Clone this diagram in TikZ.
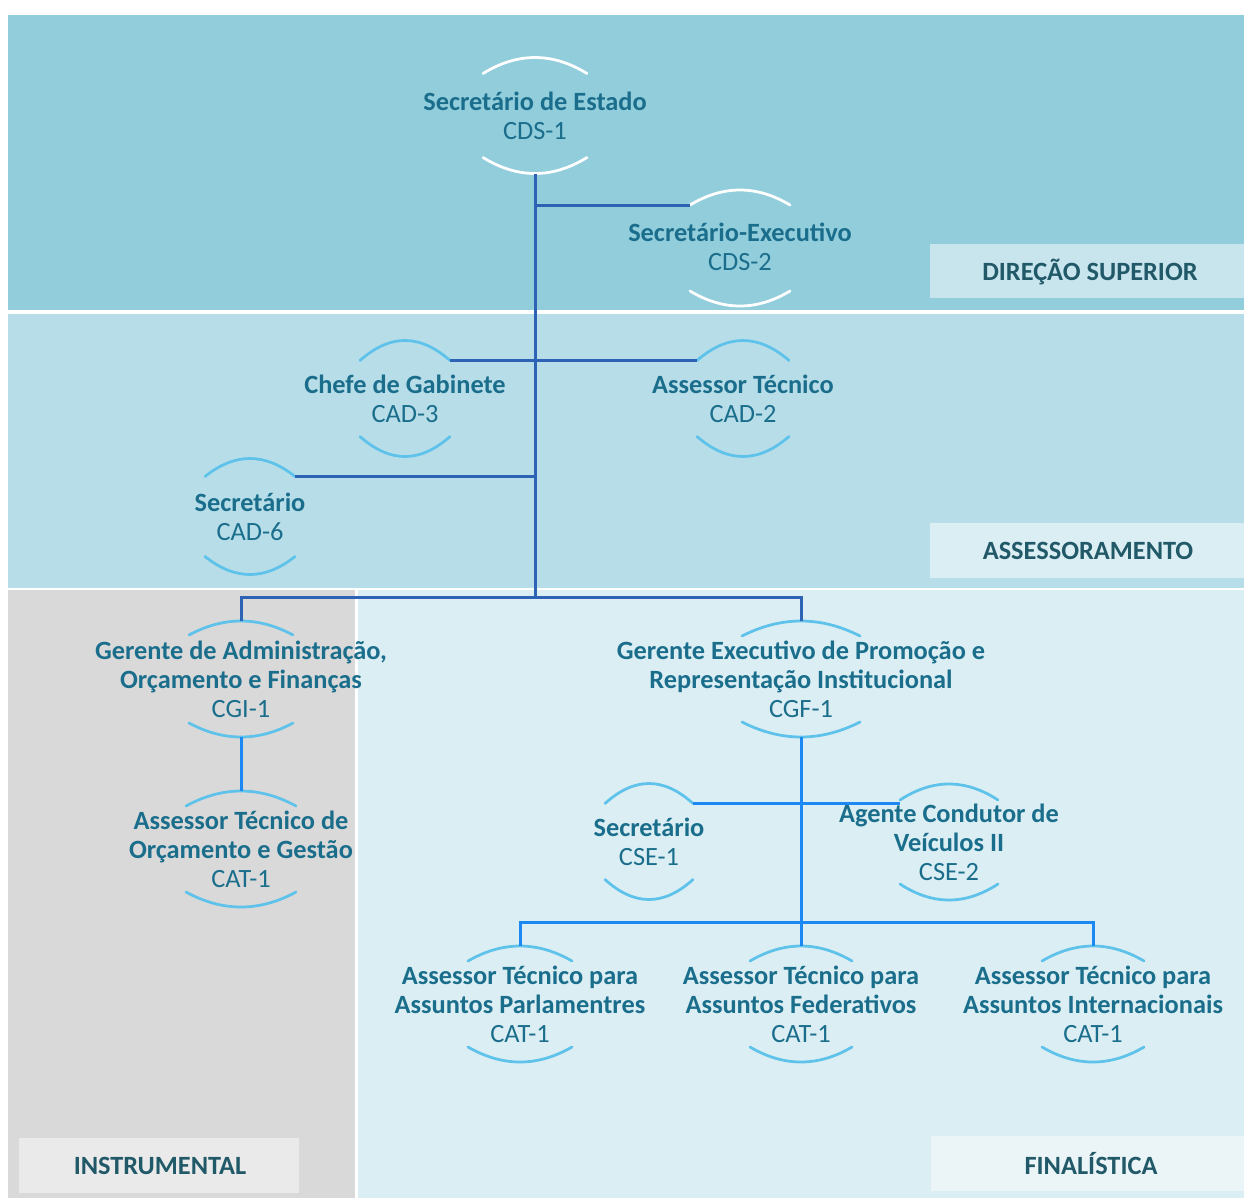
\documentclass[tikz,border=0pt]{standalone}
\usepackage{fontspec}
\setmainfont{Carlito}
\definecolor{bandtop}{HTML}{92CDDC}
\definecolor{bandmid}{HTML}{B7DEE8}
\definecolor{bandgray}{HTML}{D9D9D9}
\definecolor{bandlow}{HTML}{DAEEF3}
\definecolor{boxtop}{HTML}{C8E5EE}
\definecolor{boxmid}{HTML}{DBEEF4}
\definecolor{boxgray}{HTML}{EAEAEA}
\definecolor{boxlow}{HTML}{EBF5F8}
\definecolor{roletext}{HTML}{1A6E8C}
\definecolor{labeltext}{HTML}{215968}
\definecolor{arcblue}{HTML}{5EC2EA}
\definecolor{linedark}{HTML}{2E62B4}
\definecolor{linebright}{HTML}{1B88F4}
\tikzset{role/.style={font=\fontsize{15}{16.5}\selectfont,text=roletext,align=center,inner sep=0pt},
band label/.style={font=\fontsize{15}{18}\selectfont\bfseries,text=labeltext,anchor=center},
arc line/.style={line width=0.055cm,line cap=round},
dark link/.style={draw=linedark,line width=0.06cm},
bright link/.style={draw=linebright,line width=0.06cm},
pics/role arcs/.style n args={3}{code={
\draw [arc line,draw=#3] (-#1,-58+#2) coordinate (-tl) .. controls (-#1/3,-58-#2/3) and (#1/3,-58-#2/3) .. (#1,-58+#2) coordinate (-tr);
\draw [arc line,draw=#3] (-#1,58-#2) coordinate (-bl) .. controls (-#1/3,58+#2/3) and (#1/3,58+#2/3) .. (#1,58-#2) coordinate (-br);
\coordinate (-t) at (0,-58);
\coordinate (-b) at (0,58);
}}}

\begin{document}
\begin{tikzpicture}[x=0.02cm,y=-0.02cm]
\useasboundingbox (0,0) rectangle (1244,1198);

%% bands
\fill [bandtop] (8,15) rectangle (1244,310);
\fill [bandmid] (8,314) rectangle (1244,588);
\fill [bandgray] (8,590) rectangle (355,1198);
\fill [bandlow] (358,590) rectangle (1244,1198);

%% band labels
\fill [boxtop] (930,244) rectangle (1244,298);
\fill [boxmid] (930,523) rectangle (1244,578);
\fill [boxgray] (19,1138) rectangle (299,1193);
\fill [boxlow] (931,1136) rectangle (1244,1191);
\node [band label] (lds) at (1090,272) {DIREÇÃO SUPERIOR};
\node [band label] (las) at (1088,551) {ASSESSORAMENTO};
\node [band label] (lin) at (160,1166) {INSTRUMENTAL};
\node [band label] (lfi) at (1091,1164) {FINALÍSTICA};

%% arcs round the roles
\pic (sec) at (535,115.5) {role arcs={52}{16}{white}};
\pic (exe) at (740,248) {role arcs={50}{15}{white}};
\pic (gab) at (405,398.5) {role arcs={45}{20}{arcblue}};
\pic (ast) at (743,398.5) {role arcs={46}{20}{arcblue}};
\pic (sc6) at (250,516.5) {role arcs={45}{18}{arcblue}};
\pic (cgi) at (241,679) {role arcs={52}{14}{arcblue}};
\pic (cgf) at (801,679) {role arcs={59}{15}{arcblue}};
\pic (aog) at (241,849) {role arcs={55}{15}{arcblue}};
\pic (cs1) at (649,841.5) {role arcs={44}{20}{arcblue}};
\pic (cs2) at (949,842) {role arcs={49}{16}{arcblue}};
\pic (apa) at (520,1004) {role arcs={52}{15}{arcblue}};
\pic (afe) at (801,1004) {role arcs={51}{15}{arcblue}};
\pic (ain) at (1093,1004) {role arcs={51}{15}{arcblue}};

%% coordinates of junctions
\coordinate (j0) at (535,597);
\coordinate (j1) at (801,922);

%% dark links
\draw [dark link] (sec-b) -- (j0);
\draw [dark link] (sec-b |- exe-tl) -- (exe-tl);
\draw [dark link] (gab-tr) -- (ast-tl);
\draw [dark link] (sc6-tr) -- (sc6-tr -| j0);
\draw [dark link] (cgi-t) |- (j0) -| (cgf-t);

%% bright links
\draw [bright link] (cgi-b) -- (aog-t);
\draw [bright link] (cgf-b) -- (j1) -- (afe-t);
\draw [bright link] (cs1-tr) -- (cs1-tr -| cs2-tl);
\draw [bright link] (apa-t) |- (j1) -| (ain-t);

%% role labels
\node [role] (nsec) at (535,115.5) {\textbf{Secretário de Estado}\\CDS-1};
\node [role] (nexe) at (740,246.5) {\textbf{Secretário-Executivo}\\CDS-2};
\node [role] (ngab) at (405,398.5) {\textbf{Chefe de Gabinete}\\CAD-3};
\node [role] (nast) at (743,399) {\textbf{Assessor Técnico}\\CAD-2};
\node [role] (nsc6) at (250,516.5) {\textbf{Secretário}\\CAD-6};
\node [role] (ncgi) at (241,679) {\textbf{Gerente de Administração,}\\\textbf{Orçamento e Finanças}\\CGI-1};
\node [role] (ncgf) at (801,679) {\textbf{Gerente Executivo de Promoção e}\\\textbf{Representação Institucional}\\CGF-1};
\node [role] (naog) at (241,849) {\textbf{Assessor Técnico de}\\\textbf{Orçamento e Gestão}\\CAT-1};
\node [role] (ncs1) at (649,841.5) {\textbf{Secretário}\\CSE-1};
\node [role] (ncs2) at (949,842) {\textbf{Agente Condutor de}\\\textbf{Veículos II}\\CSE-2};
\node [role] (napa) at (520,1004) {\textbf{Assessor Técnico para}\\\textbf{Assuntos Parlamentres}\\CAT-1};
\node [role] (nafe) at (801,1004) {\textbf{Assessor Técnico para}\\\textbf{Assuntos Federativos}\\CAT-1};
\node [role] (nain) at (1093,1004) {\textbf{Assessor Técnico para}\\\textbf{Assuntos Internacionais}\\CAT-1};

\end{tikzpicture}
\end{document}
